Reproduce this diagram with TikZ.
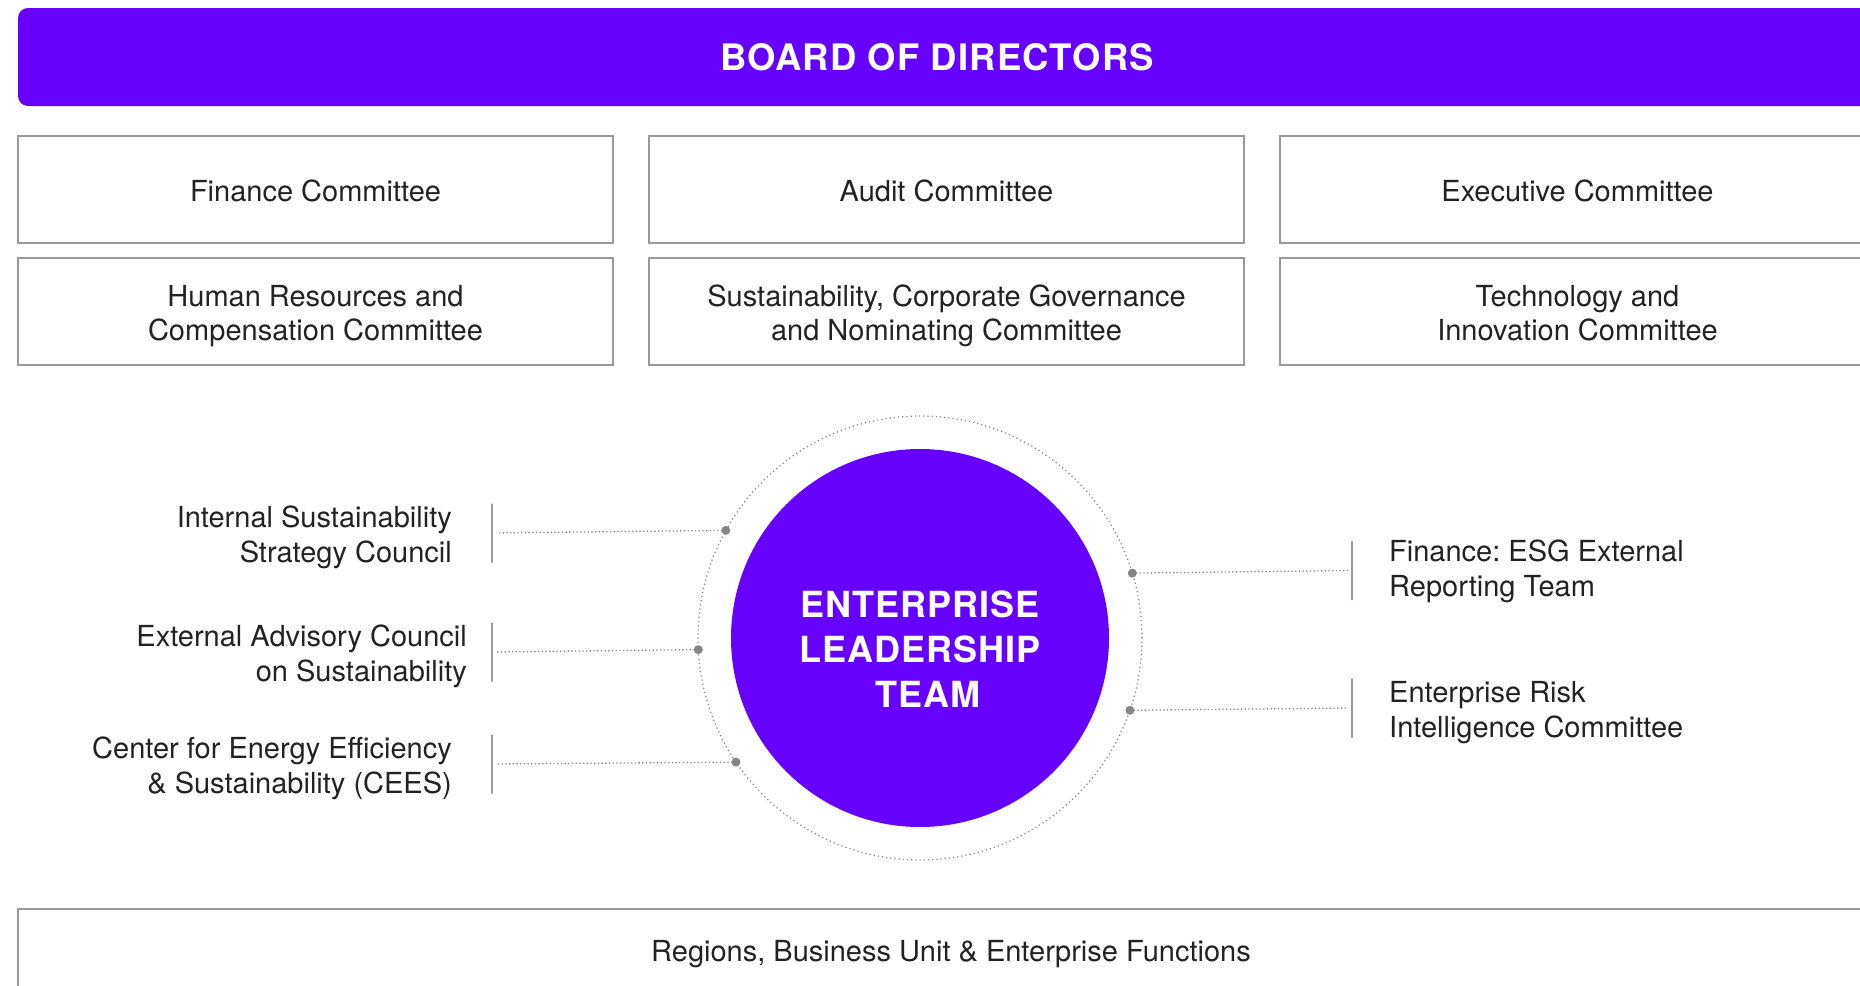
\documentclass[tikz,border=0pt]{standalone}
\usepackage{fontspec}
\setmainfont{TeX Gyre Heros}
\newfontfamily\headfont{TeX Gyre Heros}[LetterSpace=3]
\usepackage{xcolor}
\usetikzlibrary{positioning}
\definecolor{brandviolet}{HTML}{6600FF}
\definecolor{linegray}{HTML}{9A9A9A}
\definecolor{dotgray}{HTML}{858585}
\definecolor{inkgray}{HTML}{222222}
\newcommand{\linestrut}{\rule[-5.2pt]{0pt}{34.4pt}}
\newcommand{\pairstrut}{\rule[-6pt]{0pt}{70.8pt}}
\frenchspacing

\begin{document}
\begin{tikzpicture}[
    x=1pt, y=1pt,
    node distance=36pt and 36pt,
    banner/.style={fill=brandviolet, rounded corners=10pt, minimum width=1857pt, minimum height=98pt, inner sep=0pt, outer sep=0pt, text=white, font=\headfont\bfseries\fontsize{36.5}{40}\selectfont},
    committee/.style={draw=linegray, line width=1.5pt, minimum width=595pt, minimum height=107pt, align=center, inner sep=0pt, outer sep=0pt, text=inkgray, font=\fontsize{29}{34.4}\selectfont, execute at begin node=\linestrut},
    twoline/.style={execute at begin node=\pairstrut},
    core/.style={circle, fill=brandviolet, minimum size=378pt, inner sep=0pt, outer sep=0pt},
    coretext/.style={align=center, text=white, inner sep=0pt, font=\headfont\bfseries\fontsize{36}{45}\selectfont},
    ring/.style={circle, draw=dotgray, line width=1.2pt, dash pattern=on 1.2pt off 3pt, minimum size=444pt, inner sep=0pt, outer sep=0pt},
    divider/.style={draw=linegray, line width=1.2pt, minimum width=0pt, minimum height=59pt, inner sep=0pt, outer sep=0pt},
    sidelabel/.style={inner sep=0pt, text=inkgray, font=\fontsize{29}{34.4}\selectfont, twoline},
    link/.style={draw=dotgray, line width=1.3pt, dash pattern=on 1.3pt off 2.4pt, shorten >=4pt},
    joint/.style={fill=dotgray}
]
\useasboundingbox (0,0) rectangle (1860,-985);
\clip (0,0) rectangle (1860,-985);

% board and its committees
\node[banner, anchor=north west] (board) at (18,-8) {\hspace*{-19pt}BOARD OF DIRECTORS};
\node[committee, anchor=north west] (finance) at (18,-136) {Finance Committee};
\node[committee, right=of finance] (audit) {Audit Committee};
\node[committee, right=of audit] (exec) {Executive Committee};
\node[committee, twoline, below=15pt of finance] (hrcomp) {Human Resources and\\Compensation Committee};
\node[committee, twoline, below=15pt of audit] (scgn) {Sustainability, Corporate Governance\\and Nominating Committee};
\node[committee, twoline, below=15pt of exec] (techinno) {Technology and\\Innovation Committee};

% leadership team
\node[core] (elt) at (920,-638) {};
\node[coretext] (elttext) at ([yshift=-11pt]elt.center) {ENTERPRISE\\LEADERSHIP\\\hspace*{16pt}TEAM};
\node[ring] (ring) at (elt) {};

% councils and teams
\node[divider] (isscbar) at (492,-533) {};
\node[divider] (eacsbar) at (492,-652) {};
\node[divider] (ceesbar) at (492,-764) {};
\node[divider] (esgbar) at (1352,-570.5) {};
\node[divider] (ericbar) at (1352,-708) {};

\node[sidelabel, align=right, left=40pt of isscbar] (issc) {Internal Sustainability\\Strategy Council};
\node[sidelabel, align=right, left=25pt of eacsbar] (eacs) {External Advisory Council\\on Sustainability};
\node[sidelabel, align=right, left=40pt of ceesbar] (cees) {Center for Energy Efficiency\\\& Sustainability (CEES)};
\node[sidelabel, align=left, right=37pt of esgbar, yshift=3.5pt] (esg) {Finance: ESG External\\Reporting Team};
\node[sidelabel, align=left, right=37pt of ericbar] (eric) {Enterprise Risk\\Intelligence Committee};

\foreach \ang/\tgt in {151.78/isscbar, 183.62/eacsbar, 214.58/ceesbar, 17.70/esgbar, 341.62/ericbar} {
    \draw[link] (ring.\ang) -- (\tgt);
    \fill[joint] (ring.\ang) circle (4.5pt);
}

% operating level
\node[committee, anchor=north west, minimum width=1866pt, minimum height=82pt] (regions) at (18,-909) {Regions, Business Unit \& Enterprise Functions};

\end{tikzpicture}
\end{document}
